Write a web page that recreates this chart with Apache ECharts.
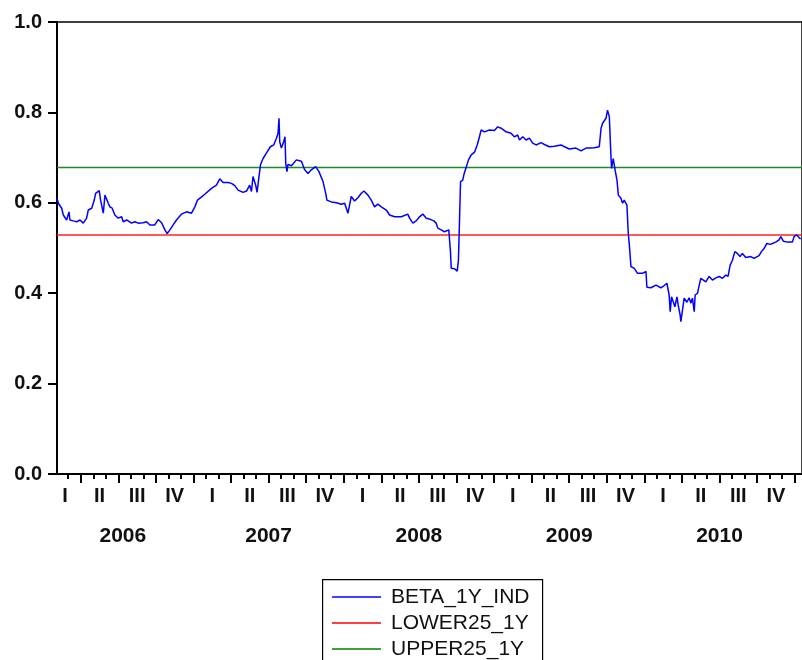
<!DOCTYPE html>
<html>
<head>
<meta charset="utf-8">
<script src="https://cdn.jsdelivr.net/npm/echarts@6/dist/echarts.min.js"></script>
<style>
  html, body { margin: 0; padding: 0; background: #fff; }
  #chart { width: 802px; height: 660px; }
</style>
</head>
<body>
<div id="chart"></div>
<script>
// Time positions are decimal years; values are the rolling one-year beta.
const betaTime = [
  2006.092, 2006.101, 2006.123, 2006.134, 2006.156, 2006.172, 2006.178, 2006.200, 2006.223, 2006.245,
  2006.267, 2006.289, 2006.300, 2006.323, 2006.340, 2006.349, 2006.362, 2006.373, 2006.382, 2006.389,
  2006.400, 2006.411, 2006.422, 2006.433, 2006.444, 2006.459, 2006.477, 2006.499, 2006.522, 2006.533,
  2006.555, 2006.588, 2006.610, 2006.632, 2006.665, 2006.688, 2006.710, 2006.743, 2006.765, 2006.788,
  2006.810, 2006.825, 2006.843, 2006.865, 2006.887, 2006.921, 2006.954, 2006.987, 2007.009, 2007.027,
  2007.054, 2007.075, 2007.087, 2007.120, 2007.153, 2007.175, 2007.197, 2007.230, 2007.253, 2007.275,
  2007.297, 2007.330, 2007.353, 2007.374, 2007.386, 2007.396, 2007.414, 2007.423, 2007.436, 2007.446,
  2007.463, 2007.485, 2007.512, 2007.534, 2007.552, 2007.563, 2007.569, 2007.574, 2007.585, 2007.600,
  2007.609, 2007.614, 2007.622, 2007.629, 2007.652, 2007.685, 2007.718, 2007.740, 2007.762, 2007.784,
  2007.813, 2007.835, 2007.862, 2007.880, 2007.888, 2007.917, 2007.951, 2007.984, 2008.006, 2008.028,
  2008.039, 2008.050, 2008.072, 2008.094, 2008.117, 2008.134, 2008.161, 2008.183, 2008.205, 2008.227,
  2008.250, 2008.283, 2008.305, 2008.338, 2008.383, 2008.426, 2008.438, 2008.460, 2008.482, 2008.504,
  2008.526, 2008.549, 2008.571, 2008.599, 2008.615, 2008.626, 2008.648, 2008.670, 2008.699, 2008.710,
  2008.715, 2008.737, 2008.755, 2008.763, 2008.770, 2008.777, 2008.792, 2008.799, 2008.814, 2008.830,
  2008.848, 2008.870, 2008.888, 2008.903, 2008.914, 2008.936, 2008.969, 2009.003, 2009.024, 2009.047,
  2009.080, 2009.113, 2009.135, 2009.157, 2009.169, 2009.191, 2009.213, 2009.235, 2009.257, 2009.280,
  2009.313, 2009.335, 2009.368, 2009.401, 2009.446, 2009.468, 2009.501, 2009.545, 2009.579, 2009.612,
  2009.645, 2009.667, 2009.700, 2009.712, 2009.722, 2009.745, 2009.755, 2009.767, 2009.778, 2009.782,
  2009.793, 2009.805, 2009.818, 2009.827, 2009.844, 2009.855, 2009.866, 2009.884, 2009.893, 2009.900,
  2009.911, 2009.933, 2009.955, 2009.988, 2010.011, 2010.017, 2010.044, 2010.077, 2010.110, 2010.132,
  2010.150, 2010.159, 2010.165, 2010.172, 2010.181, 2010.194, 2010.203, 2010.217, 2010.225, 2010.238,
  2010.243, 2010.254, 2010.265, 2010.283, 2010.298, 2010.310, 2010.320, 2010.332, 2010.338, 2010.354,
  2010.365, 2010.376, 2010.393, 2010.409, 2010.431, 2010.453, 2010.476, 2010.498, 2010.520, 2010.542,
  2010.557, 2010.571, 2010.586, 2010.602, 2010.619, 2010.637, 2010.652, 2010.675, 2010.708, 2010.730,
  2010.763, 2010.779, 2010.797, 2010.815, 2010.837, 2010.852, 2010.874, 2010.896, 2010.908, 2010.925,
  2010.952, 2010.985, 2010.996, 2011.014, 2011.029, 2011.040
];
const betaValues = [
  0.610, 0.599, 0.588, 0.573, 0.562, 0.580, 0.562, 0.560, 0.558, 0.562,
  0.555, 0.566, 0.584, 0.588, 0.606, 0.621, 0.625, 0.627, 0.606, 0.595,
  0.577, 0.617, 0.613, 0.599, 0.591, 0.588, 0.573, 0.566, 0.569, 0.558,
  0.562, 0.555, 0.558, 0.555, 0.556, 0.558, 0.551, 0.551, 0.563, 0.556,
  0.540, 0.532, 0.540, 0.551, 0.562, 0.575, 0.580, 0.577, 0.591, 0.606,
  0.613, 0.619, 0.621, 0.632, 0.639, 0.653, 0.645, 0.645, 0.643, 0.638,
  0.628, 0.623, 0.626, 0.639, 0.625, 0.658, 0.639, 0.623, 0.658, 0.684,
  0.698, 0.710, 0.724, 0.728, 0.743, 0.754, 0.787, 0.735, 0.721, 0.735,
  0.746, 0.687, 0.669, 0.685, 0.682, 0.695, 0.692, 0.673, 0.665, 0.673,
  0.680, 0.669, 0.647, 0.621, 0.606, 0.602, 0.600, 0.597, 0.599, 0.577,
  0.573, 0.614, 0.604, 0.611, 0.621, 0.626, 0.617, 0.606, 0.591, 0.597,
  0.591, 0.584, 0.573, 0.569, 0.569, 0.575, 0.566, 0.555, 0.560, 0.569,
  0.575, 0.566, 0.564, 0.560, 0.555, 0.544, 0.540, 0.536, 0.540, 0.492,
  0.455, 0.454, 0.449, 0.473, 0.558, 0.647, 0.650, 0.662, 0.678, 0.695,
  0.706, 0.712, 0.728, 0.746, 0.761, 0.757, 0.761, 0.760, 0.768, 0.765,
  0.757, 0.754, 0.746, 0.750, 0.739, 0.746, 0.739, 0.743, 0.732, 0.728,
  0.733, 0.729, 0.724, 0.725, 0.728, 0.724, 0.719, 0.721, 0.715, 0.721,
  0.721, 0.722, 0.724, 0.765, 0.776, 0.787, 0.805, 0.790, 0.702, 0.676,
  0.698, 0.673, 0.650, 0.617, 0.610, 0.599, 0.606, 0.595, 0.533, 0.507,
  0.459, 0.455, 0.444, 0.444, 0.448, 0.413, 0.412, 0.418, 0.412, 0.417,
  0.422, 0.425, 0.396, 0.359, 0.392, 0.396, 0.370, 0.392, 0.374, 0.352,
  0.337, 0.363, 0.389, 0.380, 0.390, 0.378, 0.389, 0.359, 0.396, 0.400,
  0.418, 0.433, 0.429, 0.425, 0.437, 0.429, 0.434, 0.437, 0.433, 0.440,
  0.437, 0.462, 0.473, 0.492, 0.488, 0.481, 0.488, 0.479, 0.481, 0.477,
  0.483, 0.492, 0.499, 0.510, 0.508, 0.510, 0.513, 0.518, 0.525, 0.515,
  0.513, 0.513, 0.525, 0.529, 0.523, 0.520
];

// Quartile bands: constant over the whole sample.
const bandTime = [2006.092, 2011.049];
const lowerValues = [0.529, 0.529];
const upperValues = [0.678, 0.678];

// Axis labels.
const quarterNames = ['I', 'II', 'III', 'IV'];
const yearNames = ['2006', '2007', '2008', '2009', '2010'];
const seriesNames = ['BETA_1Y_IND', 'LOWER25_1Y', 'UPPER25_1Y'];

const xMin = 2006.092;
const xMax = 2011.049;

// Tick and label positions on the decimal-year scale.
const monthTicks = [];
for (let k = 2; k <= 60; k++) monthTicks.push(2006 + k / 12);
const quarterTicks = [];
for (let k = 3; k <= 60; k += 3) quarterTicks.push(2006 + k / 12);
const quarterLabelPos = [];
const quarterLabelText = {};
yearNames.forEach((y, yi) => {
  quarterNames.forEach((q, qi) => {
    let p = 2006 + yi + qi * 0.25 + 0.125;
    if (yi === 0 && qi === 0) p = 2006.145; // first quarter is only partly shown
    quarterLabelPos.push(p);
    quarterLabelText[p.toFixed(3)] = q;
  });
});
const yearLabelPos = [2006.53, 2007.5, 2008.5, 2009.5, 2010.5];
const yearLabelText = {};
yearLabelPos.forEach((p, i) => { yearLabelText[p.toFixed(3)] = yearNames[i]; });

const pairs = (xs, ys) => xs.map((x, i) => [x, ys[i]]);

const FONT = '"Liberation Sans", Arial, sans-serif';

// One legend block per series, stacked inside a framed box.
const legendRows = seriesNames.map((name, i) => ({
  show: true, orient: 'vertical', left: 322, top: 584 + i * 26,
  padding: [0, 0, 0, 10],
  selectedMode: false,
  icon: 'rect', itemWidth: 49, itemHeight: 1.5,
  textStyle: {
    fontFamily: FONT, fontSize: 21, color: '#111', lineHeight: 26,
    padding: [0, 0, 0, 5]
  },
  data: [name]
}));

const chart = echarts.init(document.getElementById('chart'), null, { renderer: 'canvas' });
chart.setOption({
  animation: false,
  backgroundColor: '#ffffff',
  grid: {
    left: 57, top: 22, width: 746, height: 452,
    show: true, borderColor: '#000', borderWidth: 1.5, backgroundColor: 'transparent'
  },
  graphic: [{
    type: 'rect', left: 322, top: 579, z: 0,
    shape: { x: 0, y: 0, width: 220, height: 100 },
    style: { fill: '#fff', stroke: '#000', lineWidth: 1.2 }
  }],
  xAxis: [
    {
      type: 'value', min: xMin, max: xMax, position: 'bottom',
      axisLine: { show: true, onZero: false, lineStyle: { color: '#000', width: 2 } },
      axisTick: { show: true, customValues: quarterTicks, length: 9, lineStyle: { color: '#000', width: 2 } },
      axisLabel: {
        customValues: quarterLabelPos, margin: 12,
        color: '#111', fontFamily: FONT, fontSize: 20, fontWeight: 'bold',
        formatter: v => quarterLabelText[v.toFixed(3)] || ''
      },
      splitLine: { show: false }
    },
    {
      type: 'value', min: xMin, max: xMax, position: 'bottom', offset: 0,
      axisLine: { show: false, onZero: false },
      axisTick: { show: true, customValues: monthTicks, length: 5, lineStyle: { color: '#000', width: 2 } },
      axisLabel: {
        customValues: yearLabelPos, margin: 52,
        color: '#111', fontFamily: FONT, fontSize: 21, fontWeight: 'bold',
        formatter: v => yearLabelText[v.toFixed(3)] || ''
      },
      splitLine: { show: false }
    }
  ],
  yAxis: {
    type: 'value', min: 0, max: 1, interval: 0.2,
    axisLine: { show: true, lineStyle: { color: '#000', width: 2 } },
    axisTick: { show: true, length: 9, lineStyle: { color: '#000', width: 2 } },
    axisLabel: {
      margin: 15, color: '#111', fontFamily: FONT, fontSize: 20, fontWeight: 'bold',
      formatter: v => v.toFixed(1)
    },
    splitLine: { show: false }
  },
  legend: legendRows,
  series: [
    {
      name: seriesNames[0], type: 'line', color: '#0000ff',
      data: pairs(betaTime, betaValues),
      showSymbol: false, symbol: 'none',
      lineStyle: { color: '#0000ff', width: 1.5 }, z: 3
    },
    {
      name: seriesNames[1], type: 'line', color: '#ff0000',
      data: pairs(bandTime, lowerValues),
      showSymbol: false, symbol: 'none',
      lineStyle: { color: '#ff2020', width: 1.5 }, z: 2
    },
    {
      name: seriesNames[2], type: 'line', color: '#008000',
      data: pairs(bandTime, upperValues),
      showSymbol: false, symbol: 'none',
      lineStyle: { color: '#1e8c1e', width: 1.5 }, z: 2
    }
  ]
});
</script>
</body>
</html>
